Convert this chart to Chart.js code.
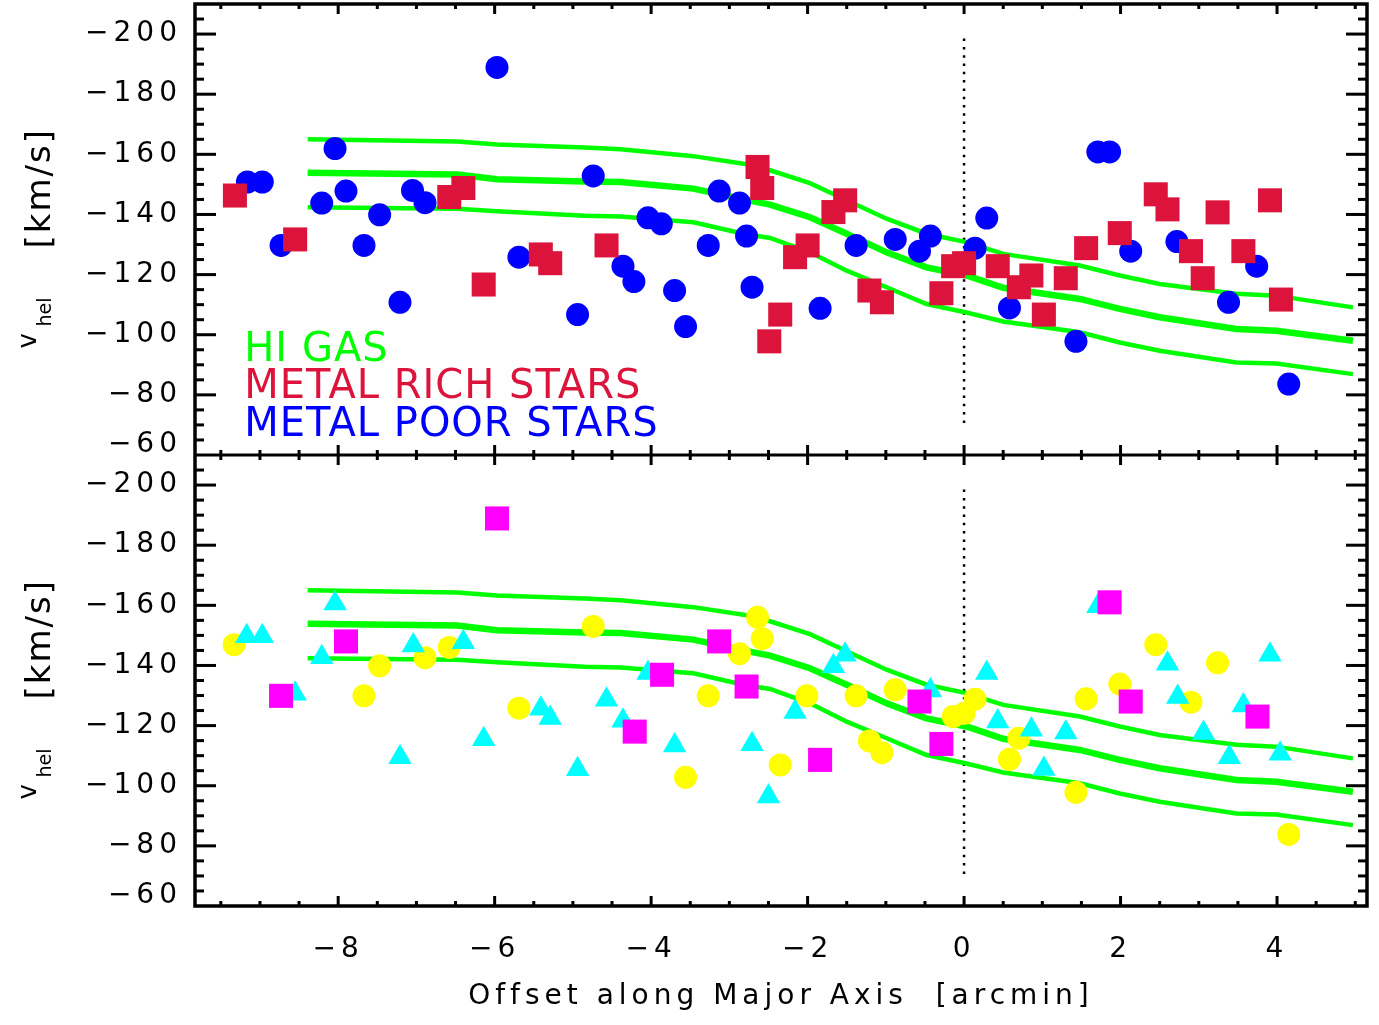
<!DOCTYPE html>
<html>
<head>
<meta charset="utf-8">
<title>Velocity along major axis</title>
<script src="https://cdn.jsdelivr.net/npm/chart.js@4.4.1/dist/chart.umd.min.js"></script>
<style>
  html, body { margin: 0; padding: 0; background: #fff; }
  #wrap { width: 1379px; height: 1025px; }
</style>
</head>
<body>
<div id="wrap"><canvas id="chart"></canvas></div>
<script>
// HI gas velocity curve: centre track and the two envelope tracks
const gasX    = [-8.39, -6.48, -5.97, -4.85, -4.39, -3.46, -2.82, -2.48, -1.97, -1.50, -0.99, -0.48, 0.03, 0.50, 1.48, 1.99, 2.50, 3.48, 3.99, 4.97];
const gasHigh = [-165.0, -164.3, -163.3, -162.3, -161.7, -159.4, -156.9, -154.7, -150.4, -144.7, -138.6, -133.6, -130.8, -126.9, -123.0, -119.7, -116.9, -113.6, -113.0, -109.1];
const gasMid  = [-153.9, -153.3, -151.7, -151.0, -150.8, -148.6, -145.0, -143.3, -139.1, -133.6, -127.4, -122.4, -119.7, -115.6, -111.9, -108.6, -105.8, -101.9, -101.3, -98.0];
const gasLow  = [-142.4, -141.9, -141.1, -139.6, -139.3, -137.4, -133.6, -132.2, -127.4, -121.3, -115.8, -110.2, -107.4, -104.4, -100.8, -97.4, -94.7, -90.8, -90.4, -86.9];

// top panel: metal poor stars (blue circles)
const poorX = [-9.16, -8.97, -8.73, -8.04, -8.21, -7.90, -7.47, -7.67, -7.21, -7.05, -6.89, -5.97, -5.69, -4.94, -4.74, -4.36, -4.22, -4.04, -3.87, -3.70, -3.56, -3.27, -3.13, -2.87, -2.78, -2.71, -1.84, -1.38, -0.88, -0.57, -0.43, 0.14, 0.29, 0.58, 1.71, 1.86, 1.43, 2.13, 2.72, 3.38, 3.74, 4.15];
const poorV = [-150.8, -150.8, -129.7, -161.9, -143.8, -147.8, -139.9, -129.7, -110.8, -148.0, -143.9, -188.9, -125.8, -106.7, -152.8, -122.8, -117.7, -138.9, -136.9, -114.7, -102.7, -129.7, -147.8, -143.8, -132.8, -115.8, -108.8, -129.7, -131.7, -127.8, -132.8, -128.8, -138.8, -108.9, -160.8, -160.8, -97.8, -127.8, -131.0, -110.8, -122.8, -83.6];

// top panel: metal rich stars (red squares)
const richX = [-9.32, -8.55, -6.58, -6.40, -6.14, -5.41, -5.29, -4.57, -2.64, -2.58, -2.35, -2.49, -2.16, -2.00, -1.67, -1.52, -1.21, -1.05, -0.29, -0.14, 0.00, 0.43, 0.70, 0.86, 1.02, 1.30, 1.56, 1.99, 2.45, 2.60, 2.90, 3.05, 3.24, 3.57, 3.91, 4.05];
const richV = [-146.3, -131.7, -145.8, -148.8, -116.7, -126.7, -123.8, -129.7, -155.8, -148.8, -106.7, -97.8, -125.8, -129.7, -140.8, -144.7, -114.7, -110.8, -113.8, -122.8, -123.8, -122.8, -115.8, -119.7, -106.7, -118.8, -128.8, -133.8, -146.7, -141.7, -127.8, -118.8, -140.7, -127.8, -144.7, -111.7];

// bottom panel: yellow circles
const yelX = [-9.33, -7.47, -7.67, -6.89, -6.58, -5.69, -4.74, -3.56, -3.27, -2.87, -2.64, -2.58, -2.35, -2.01, -1.38, -1.21, -1.05, -0.88, -0.14, 0.00, 0.14, 0.70, 0.58, 1.43, 1.56, 1.99, 2.45, 2.90, 3.24, 4.15];
const yelV = [-146.9, -139.9, -129.9, -142.6, -146.0, -125.8, -153.0, -102.8, -129.9, -143.9, -156.0, -148.9, -106.9, -129.9, -129.9, -114.9, -111.0, -131.9, -123.0, -124.1, -128.8, -115.8, -108.8, -97.8, -128.9, -133.8, -146.9, -127.8, -140.9, -83.8];

// bottom panel: cyan triangles
const cyanX = [-9.17, -8.97, -8.55, -8.04, -8.21, -7.04, -6.40, -7.21, -6.14, -5.41, -5.29, -4.94, -4.57, -4.36, -4.04, -3.70, -2.71, -2.50, -2.16, -1.67, -1.52, -0.43, 0.29, 0.43, 0.86, 1.02, 1.30, 1.71, 2.60, 2.73, 3.06, 3.39, 3.57, 3.91, 4.04];
const cyanV = [-149.7, -149.7, -130.6, -160.6, -142.7, -146.6, -147.7, -109.5, -115.5, -125.6, -122.5, -105.5, -128.6, -121.6, -137.5, -113.4, -113.8, -96.4, -124.5, -139.7, -143.6, -131.7, -137.5, -121.4, -118.6, -105.6, -117.7, -159.7, -140.6, -129.5, -117.5, -109.5, -126.7, -143.6, -110.6];

// bottom panel: magenta squares
const magX = [-8.73, -7.90, -5.97, -4.21, -3.86, -3.13, -2.78, -1.84, -0.57, -0.29, 1.86, 2.13, 3.75];
const magV = [-129.9, -148.0, -188.9, -118.0, -136.9, -148.0, -133.0, -108.6, -128.0, -113.9, -161.0, -128.0, -123.0];

// dotted marker of the galaxy centre
const centreX = [0, 0];
const centreV = [-198.5, -70];

const xTicks = [-8, -6, -4, -2, 0, 2, 4];
const yTicks = [-200, -180, -160, -140, -120, -100, -80, -60];

const legendText = ["HI GAS", "METAL RICH STARS", "METAL POOR STARS"];
const legendColors = ["#00ff00", "#dc143c", "#0000ff"];

const FONT = "'DejaVu Sans', sans-serif";

const pts = (xs, vs) => xs.map((x, i) => ({ x, y: vs[i] }));
const minus = (v) => (v < 0 ? "\u2212" : "") + Math.abs(v);

function markers(xs, vs, color, style, radius, yAxisID, order) {
  return {
    data: pts(xs, vs), yAxisID, order,
    pointStyle: style, pointRadius: radius,
    backgroundColor: color, borderColor: color, pointBorderWidth: 0,
    showLine: false
  };
}

function gasLine(vs, width, yAxisID) {
  return {
    data: pts(gasX, vs), yAxisID, order: 5,
    showLine: true, borderColor: "#00ff00", borderWidth: width,
    pointRadius: 0, tension: 0, borderCapStyle: "butt"
  };
}

function centreLine(yAxisID) {
  return {
    data: pts(centreX, centreV), yAxisID, order: 6,
    showLine: true, borderColor: "#000", borderWidth: 2.5,
    borderDash: [2.5, 5.8], pointRadius: 0
  };
}

// keep the layout from reserving room for overhanging labels
const noOverhang = (s) => {
  s.paddingTop = 0; s.paddingBottom = 0; s.paddingLeft = 0; s.paddingRight = 0;
};

// IDL style box: inward minor/major ticks, frame, axis titles, text legend
const boxPlugin = {
  id: "box",
  beforeDraw(chart) {
    chart.ctx.letterSpacing = "5px";
  },
  beforeDatasetsDraw(chart) {
    chart.ctx.letterSpacing = "0px";
  },
  afterDraw(chart) {
    const { ctx, chartArea: a, scales } = chart;
    const panels = [scales.yTop, scales.yBot];
    ctx.save();
    ctx.fillStyle = "#000";
    for (const ys of panels) {
      for (let v = -205; v < -60; v += 5) {
        const py = ys.getPixelForValue(v);
        const len = v % 20 === 0 ? 21 : 9;
        ctx.fillRect(a.left, py - 1.5, len, 3);
        ctx.fillRect(a.right - len, py - 1.5, len, 3);
      }
      for (let k = -19; k <= 10; k++) {
        const px = scales.x.getPixelForValue(k / 2);
        const len = k % 4 === 0 ? 10 : 5;
        ctx.fillRect(px - 1.5, ys.top, 3, len);
        ctx.fillRect(px - 1.5, ys.bottom - len, 3, len);
      }
    }

    ctx.strokeStyle = "#000";
    ctx.lineWidth = 3.5;
    ctx.strokeRect(a.left, a.top, a.right - a.left, a.bottom - a.top);
    ctx.fillRect(a.left, scales.yTop.bottom - 1.5, a.right - a.left, 3);

    // y titles: v_hel  [km/s], rotated
    ctx.textAlign = "left";
    ctx.textBaseline = "alphabetic";
    for (const ys of panels) {
      const cy = (ys.top + ys.bottom) / 2;
      const part = (text, size, spacing, base, start) => {
        ctx.save();
        ctx.translate(base, cy);
        ctx.rotate(-Math.PI / 2);
        ctx.font = `${size}px ${FONT}`;
        ctx.letterSpacing = spacing + "px";
        ctx.fillText(text, -start, 0);
        ctx.restore();
      };
      part("v", 26, 0, 36, 119);
      part("hel", 19, 0, 51, 97);
      part("[km/s]", 34, 2, 50, 19);
    }

    // legend text in the top panel
    ctx.font = `40px ${FONT}`;
    ctx.letterSpacing = "1px";
    ctx.textBaseline = "middle";
    const lx = scales.x.getPixelForValue(-9.2);
    const ly = [-94.8, -82.3, -69.7];
    legendText.forEach((t, i) => {
      ctx.fillStyle = legendColors[i];
      ctx.fillText(t, lx, scales.yTop.getPixelForValue(ly[i]));
    });
    ctx.restore();
  }
};

function yScale(weight) {
  return {
    type: "linear", position: "left", stack: "panels", stackWeight: 1, weight,
    reverse: true, min: -210, max: -60,
    afterBuildTicks: (s) => { s.ticks = yTicks.map((value) => ({ value })); },
    afterFit: (s) => { s.width = 195; noOverhang(s); },
    grid: { display: false, drawTicks: false },
    border: { display: false },
    ticks: {
      color: "#000", padding: 13, autoSkip: false,
      font: (c) => ({ family: FONT, size: 28, lineHeight: c.tick && c.tick.value === -60 ? 0.75 : 1.2 }),
      callback: (v) => (v === -60 ? [minus(v), ""] : minus(v))
    }
  };
}

new Chart(document.getElementById("chart"), {
  type: "scatter",
  data: {
    datasets: [
      markers(richX, richV, "#dc143c", "rect", 17, "yTop", 1),
      markers(poorX, poorV, "#0000ff", "circle", 11.5, "yTop", 2),
      gasLine(gasHigh, 4.5, "yTop"),
      gasLine(gasMid, 6.5, "yTop"),
      gasLine(gasLow, 4.5, "yTop"),
      centreLine("yTop"),
      markers(magX, magV, "#ff00ff", "rect", 17, "yBot", 1),
      markers(cyanX, cyanV, "#00ffff", "triangle", 13.5, "yBot", 2),
      markers(yelX, yelV, "#ffff00", "circle", 11.5, "yBot", 3),
      gasLine(gasHigh, 4.5, "yBot"),
      gasLine(gasMid, 6.5, "yBot"),
      gasLine(gasLow, 4.5, "yBot"),
      centreLine("yBot")
    ]
  },
  options: {
    responsive: true,
    maintainAspectRatio: false,
    animation: false,
    events: [],
    layout: { autoPadding: false, padding: { top: 4, right: 12, bottom: 0, left: 0 } },
    plugins: { legend: { display: false }, tooltip: { enabled: false } },
    scales: {
      x: {
        type: "linear", position: "bottom", min: -9.83, max: 5.15,
        afterBuildTicks: (s) => { s.ticks = xTicks.map((value) => ({ value })); },
        afterFit: (s) => { s.height = 119; noOverhang(s); },
        grid: { display: false, drawTicks: false },
        border: { display: false },
        ticks: { color: "#000", padding: 27, maxRotation: 0, autoSkip: false, font: { family: FONT, size: 28 }, callback: minus },
        title: {
          display: true, text: "Offset along Major Axis  [arcmin]", color: "#000",
          font: { family: FONT, size: 28 }, padding: { top: 0, bottom: 11 }
        }
      },
      yTop: yScale(1),
      yBot: yScale(0)
    }
  },
  plugins: [boxPlugin]
});
</script>
</body>
</html>
